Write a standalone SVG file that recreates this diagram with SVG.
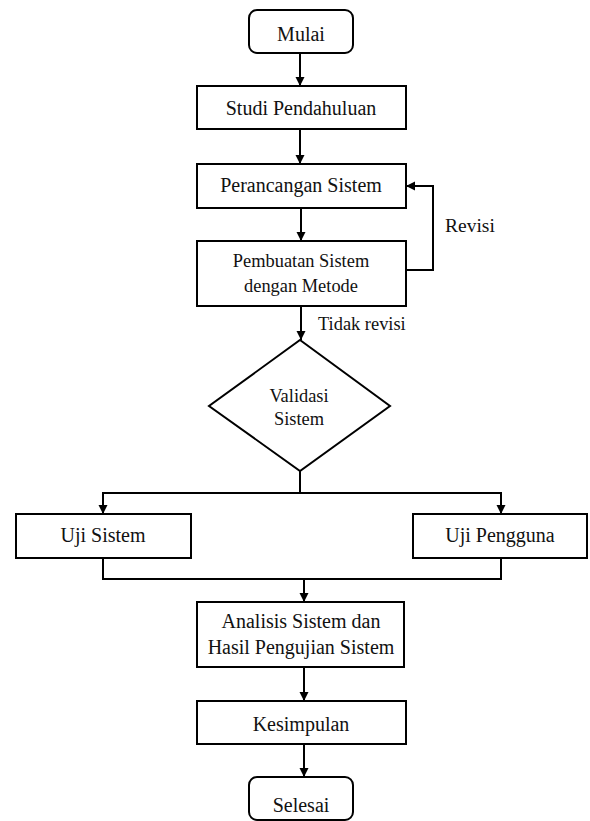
<svg xmlns="http://www.w3.org/2000/svg" width="590" height="821" viewBox="0 0 590 821">
<defs>
<style>
.box{fill:#fff;stroke:#000;stroke-width:2}
.ln{fill:none;stroke:#000;stroke-width:2}
text{font-family:"Liberation Serif","Times New Roman",serif;font-size:20px;fill:#111;text-anchor:middle}
.s18{font-size:18.4px}
.lbl{text-anchor:start}
</style>
<marker id="ah" viewBox="0 0 10 10" refX="10" refY="5" markerWidth="9" markerHeight="11" markerUnits="userSpaceOnUse" orient="auto">
<path d="M0,0 L10,5 L0,10 z" fill="#000"/>
</marker>
</defs>
<rect width="590" height="821" fill="#fff"/>
<g id="connectors">
<line class="ln" x1="300" y1="53" x2="300" y2="86" marker-end="url(#ah)"/>
<line class="ln" x1="300" y1="129" x2="300" y2="164" marker-end="url(#ah)"/>
<line class="ln" x1="301" y1="208" x2="301" y2="241" marker-end="url(#ah)"/>
<polyline class="ln" points="406,270 433,270 433,186 406,186" marker-end="url(#ah)"/>
<line class="ln" x1="301" y1="306" x2="301" y2="340" marker-end="url(#ah)"/>
<line class="ln" x1="300" y1="471" x2="300" y2="493"/>
<polyline class="ln" points="103,514 103,493 501,493 501,514"/>
<line class="ln" x1="103" y1="505" x2="103" y2="514" marker-end="url(#ah)"/>
<line class="ln" x1="501" y1="505" x2="501" y2="514" marker-end="url(#ah)"/>
<polyline class="ln" points="103,558 103,579 501,579 501,558"/>
<line class="ln" x1="304" y1="579" x2="304" y2="602" marker-end="url(#ah)"/>
<line class="ln" x1="304" y1="667" x2="304" y2="701" marker-end="url(#ah)"/>
<line class="ln" x1="304" y1="744" x2="304" y2="777" marker-end="url(#ah)"/>
<text class="lbl" x="445" y="232" style="font-size:19.5px">Revisi</text>
<text class="s18 lbl" x="318" y="330">Tidak revisi</text>
</g>
<g id="mulai"><rect class="box" x="249" y="10" width="104" height="43" rx="8"/><text x="301" y="41">Mulai</text></g>
<g id="studi"><rect class="box" x="197" y="86" width="209" height="43"/><text x="301" y="115">Studi Pendahuluan</text></g>
<g id="perancangan"><rect class="box" x="197" y="164" width="209" height="44"/><text x="301" y="192">Perancangan Sistem</text></g>
<g id="pembuatan"><rect class="box" x="197" y="241" width="209" height="65"/><text class="s18" x="301" y="267">Pembuatan Sistem</text><text class="s18" x="301" y="292">dengan Metode</text></g>
<g id="validasi"><polygon class="box" points="300,340 390,406 300,471 209,406"/><text class="s18" x="299" y="402">Validasi</text><text class="s18" x="299" y="425">Sistem</text></g>
<g id="uji-sistem"><rect class="box" x="16" y="514" width="175" height="44"/><text x="103" y="542">Uji Sistem</text></g>
<g id="uji-pengguna"><rect class="box" x="413" y="514" width="174" height="44"/><text x="500" y="542">Uji Pengguna</text></g>
<g id="analisis"><rect class="box" x="197" y="602" width="207" height="65"/><text x="301" y="628">Analisis Sistem dan</text><text x="301" y="654">Hasil Pengujian Sistem</text></g>
<g id="kesimpulan"><rect class="box" x="197" y="701" width="209" height="43"/><text x="301" y="731">Kesimpulan</text></g>
<g id="selesai"><rect class="box" x="249" y="777" width="104" height="43" rx="8"/><text x="301" y="812">Selesai</text></g>
</svg>
